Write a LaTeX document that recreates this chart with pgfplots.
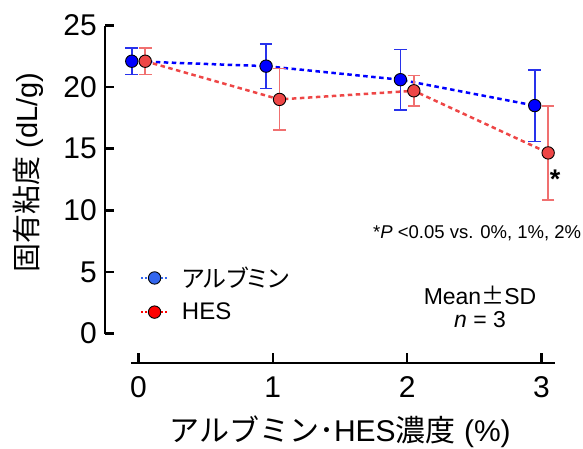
\documentclass[border=0pt]{standalone}
\usepackage{fontspec}
\setmainfont{Liberation Sans}
\newfontfamily\jp{Noto Sans CJK JP}
\newfontfamily\jpp[RawFeature=+palt]{Noto Sans CJK JP}
\usepackage{pgfplots}
\usepackage{pgfplotstable}
\pgfplotsset{compat=1.18}
\definecolor{pblue}{RGB}{0,0,255}
\definecolor{eblue}{RGB}{40,50,235}
\definecolor{pred}{RGB}{238,70,70}
\definecolor{ered}{RGB}{240,112,112}
\definecolor{lblue}{RGB}{51,102,238}
\definecolor{lred}{RGB}{255,0,0}
\newcommand\tickfont{\fontsize{30}{36}\selectfont}
\pgfplotstableread{
x y e
-0.05 22.1 1.07
0.95 21.7 1.8
1.95 20.6 2.45
2.95 18.5 2.9
}\albumin
\pgfplotstableread{
x y e
0.05 22.1 1.07
1.05 19.0 2.5
2.05 19.7 1.25
3.05 14.66 3.8
}\hes
\begin{document}
\begin{tikzpicture}[x=1pt,y=1pt]
\path[use as bounding box] (-105,-114.5) rectangle (478,333.5);
\begin{axis}[
  at={(0pt,0pt)}, anchor=south west, scale only axis,
  width=463.3pt, height=308pt,
  xmin=-0.2494, xmax=3.2, ymin=0, ymax=25,
  clip=false,
  axis x line=none, axis y line*=left,
  ytick={0,5,10,15,20,25},
  tick align=inside, major tick length=9pt,
  axis line style={line width=2.5pt, black, -},
  every tick/.style={line width=2.5pt, black},
  /pgf/number format/assume math mode=true,
  yticklabel style={font=\tickfont, anchor=east, inner sep=0pt, xshift=-8pt},
  legend image code/.code={\draw[mark repeat=2, mark phase=2, #1] plot coordinates {(0pt,0pt) (13.5pt,0pt) (27pt,0pt)};},
  legend style={at={(axis description cs:0.0755,0.128)}, anchor=west, draw=none, fill=none, inner sep=0pt,
    row sep=14pt, column sep=13pt, font=\fontsize{24}{28}\selectfont, nodes={inner sep=0pt}},
  legend cell align=left,
]
\addlegendimage{lblue, line width=1.8pt, dash pattern=on 2pt off 2pt, mark=*, mark size=6.2pt, mark options={solid, fill=lblue, draw=black, line width=0.9pt}}
\addlegendentry{{\jpp アルブミン}}
\addlegendimage{lred, line width=1.8pt, dash pattern=on 2pt off 2pt, mark=*, mark size=6.2pt, mark options={solid, fill=lred, draw=black, line width=0.9pt}}
\addlegendentry{HES}
\addplot[forget plot, color=pblue, line width=2.5pt, dash pattern=on 4.5pt off 3.5pt,
  mark=*, mark size=6.2pt, mark options={solid, fill=pblue, draw=black, line width=0.9pt},
  error bars/.cd, y dir=both, y explicit,
  error bar style={solid, line width=1.6pt, eblue},
  error mark options={solid, line width=1.6pt, eblue, mark size=6.3pt, rotate=90}]
  table[x=x, y=y, y error=e] {\albumin};
\addplot[forget plot, color=pred, line width=2.5pt, dash pattern=on 4.5pt off 3.5pt,
  mark=*, mark size=6.2pt, mark options={solid, fill=pred, draw=black, line width=0.9pt},
  error bars/.cd, y dir=both, y explicit,
  error bar style={solid, line width=1.6pt, ered},
  error mark options={solid, line width=1.6pt, ered, mark size=6.3pt, rotate=90}]
  table[x=x, y=y, y error=e] {\hes};
\end{axis}
\begin{axis}[
  at={(26pt,-29.5pt)}, anchor=south west, scale only axis,
  width=424pt, height=20pt,
  xmin=-0.0558, xmax=3.101, ymin=0, ymax=1,
  axis y line=none, axis x line*=bottom,
  xtick={0,1,2,3},
  tick align=inside, major tick length=10pt,
  axis line style={line width=2.5pt, black, -},
  every tick/.style={line width=2.5pt, black},
  /pgf/number format/assume math mode=true,
  xticklabel style={font=\tickfont, anchor=north, inner sep=0pt, yshift=-13.5pt},
]
\addplot[draw=none, forget plot] coordinates {(0,0)};
\end{axis}
\node[rotate=90, font=\fontsize{29}{34}\selectfont] at (-77,161) {{\jp 固有粘度} (dL/g)};
\node[font=\fontsize{30}{36}\selectfont] at (235,-98.5) {{\jp アルブミン･}HES{\jp 濃度} (\%)};
\node[anchor=west, inner sep=0pt, font=\fontsize{18.5}{22}\selectfont] at (268,100.5) {*\textit{P} <0.05 vs. 0\%, 1\%, 2\%};
\node[inner sep=0pt, font=\fontsize{23}{28}\selectfont] at (375,38.5) {Mean{\jp ±}SD};
\node[inner sep=0pt, font=\fontsize{23}{28}\selectfont] at (375,13.5) {\textit{n} = 3};
\node[anchor=base, inner sep=0pt, font=\bfseries\fontsize{27}{30}\selectfont] at (450,145) {*};
\end{tikzpicture}
\end{document}
